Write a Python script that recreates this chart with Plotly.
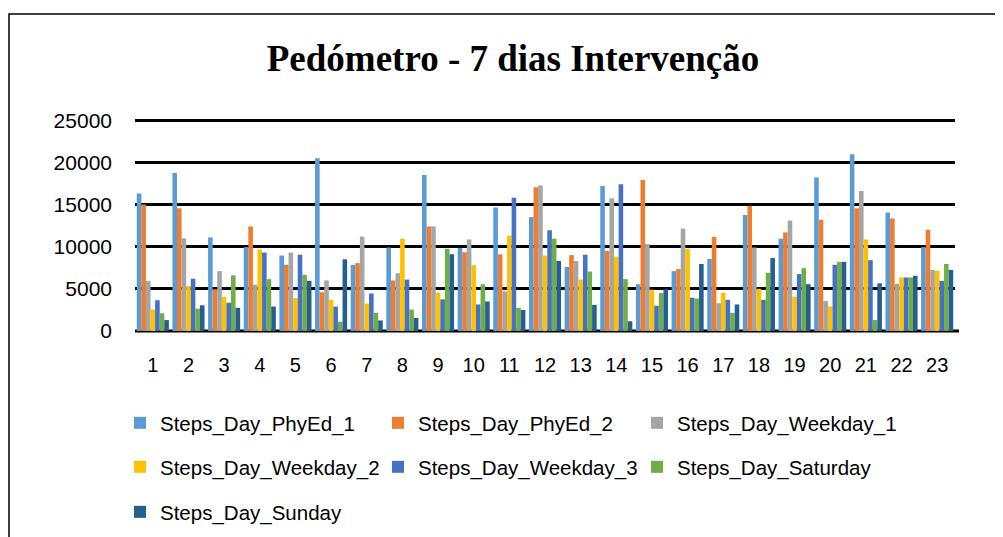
import plotly.graph_objects as go

categories = [str(i) for i in range(1, 24)]

series_names = ["Steps_Day_PhyEd_1", "Steps_Day_PhyEd_2", "Steps_Day_Weekday_1",
                "Steps_Day_Weekday_2", "Steps_Day_Weekday_3", "Steps_Day_Saturday",
                "Steps_Day_Sunday"]

phyed_1 = [16300, 18750, 11100, 9950, 8950, 20500, 7850, 9900, 18500, 9850, 14650, 13500,
           7600, 17200, 5550, 7100, 8550, 13750, 10950, 18200, 20950, 14050, 9950]
phyed_2 = [15000, 14550, 4950, 12400, 7850, 4600, 8050, 6000, 12400, 9350, 9100, 17050,
           9000, 9500, 17900, 7350, 11150, 14850, 11700, 13200, 14550, 13350, 12000]
weekday_1 = [5950, 11000, 7100, 5500, 9300, 6000, 11200, 6850, 12400, 10850, 4700, 17250,
             8300, 15750, 10300, 12150, 3300, 9900, 13100, 3550, 16600, 5600, 7250]
weekday_2 = [2550, 5350, 4050, 9650, 3900, 3700, 3250, 10950, 4550, 7800, 11300, 8950,
             6100, 8800, 4900, 9750, 4550, 5000, 4050, 2900, 10850, 6350, 7150]
weekday_3 = [3650, 6200, 3350, 9300, 9050, 2900, 4450, 6100, 3750, 3150, 15800, 11950,
             9050, 17400, 3000, 3950, 3700, 3700, 6750, 7850, 8400, 6350, 5950]
saturday = [2100, 2650, 6600, 6150, 6650, 1100, 2150, 2550, 9750, 5550, 2750, 10950,
            7050, 6150, 4500, 3850, 2150, 6900, 7450, 8200, 1300, 6350, 7950]
sunday = [1300, 3050, 2750, 2900, 5950, 8500, 1250, 1550, 9100, 3500, 2500, 8300,
          3100, 1150, 4950, 7950, 3150, 8650, 5550, 8200, 5650, 6550, 7250]

values = [phyed_1, phyed_2, weekday_1, weekday_2, weekday_3, saturday, sunday]
colors = ["#5B9BD5", "#ED7D31", "#A5A5A5", "#FFC000", "#4472C4", "#70AD47", "#255E91"]

y_ticks = [0, 5000, 10000, 15000, 20000, 25000]
y_ticktext = [str(v) for v in y_ticks]

W, H = 1003, 537
OFF = 8  # page offset of the figure in the screenshot
L, T = 127, 108
pw, ph = 820, 215
R, B = W - L - pw, H - T - ph

def px(sx):
    return (sx - OFF - L) / pw

def py(sy):
    return (H - B - (sy - OFF)) / ph

# legend grid: 3 columns x 3 rows (marker left edges / row centres, screen pixels)
leg_cols = [139, 397, 656]
leg_rows = [423, 467, 512]

fig = go.Figure()
lfont = dict(family="Liberation Sans", size=20.5, color="#000000")
legend_layouts = {}
for i, (name, vals, col) in enumerate(zip(series_names, values, colors)):
    lid = "legend" if i == 0 else f"legend{i + 1}"
    fig.add_trace(go.Bar(x=categories, y=vals, name=name, marker_color=col,
                         marker_line_width=0, legend=lid, showlegend=True))
    cx = leg_cols[i % 3] - 4 - 15
    cy = leg_rows[i // 3]
    legend_layouts[lid] = dict(x=px(cx), y=py(cy), xanchor="left", yanchor="middle",
                               orientation="v", font=lfont, bgcolor="rgba(0,0,0,0)",
                               itemclick=False, itemdoubleclick=False)

fig.update_layout(
    width=W, height=H,
    showlegend=True,
    margin=dict(l=L, r=R, t=T, b=B, autoexpand=False),
    paper_bgcolor="white", plot_bgcolor="rgba(0,0,0,0)",
    barmode="group", bargap=0.1, bargroupgap=0.0,
    title=dict(text="<b>Pedómetro - 7 dias Intervenção</b>", x=505 / W, xref="container",
               xanchor="center", y=1 - 50 / H, yref="container", yanchor="middle",
               font=dict(family="Liberation Serif", size=37, color="#000000")),
    xaxis=dict(type="category", showgrid=False, showline=False, zeroline=False,
               ticks="", tickfont=dict(family="Liberation Sans", size=20, color="#000000"),
               ticklabelstandoff=20),
    yaxis=dict(range=[0, 25500], tickvals=y_ticks, ticktext=y_ticktext, showgrid=True,
               gridcolor="#000000", gridwidth=3, zeroline=False,
               showline=False, ticks="", ticklabelstandoff=22,
               tickfont=dict(family="Liberation Sans", size=21, color="#000000")),
    shapes=[dict(type="rect", xref="paper", yref="paper",
                 x0=px(9), x1=px(1040), y0=py(600), y1=py(14),
                 line=dict(color="#000000", width=1.5), fillcolor="rgba(0,0,0,0)",
                 layer="below"),
            dict(type="line", xref="paper", yref="paper", x0=0, x1=px(959), y0=0, y1=0,
                 line=dict(color="#000000", width=3), layer="below")],
    **legend_layouts,
)

fig.write_html("out.html")
